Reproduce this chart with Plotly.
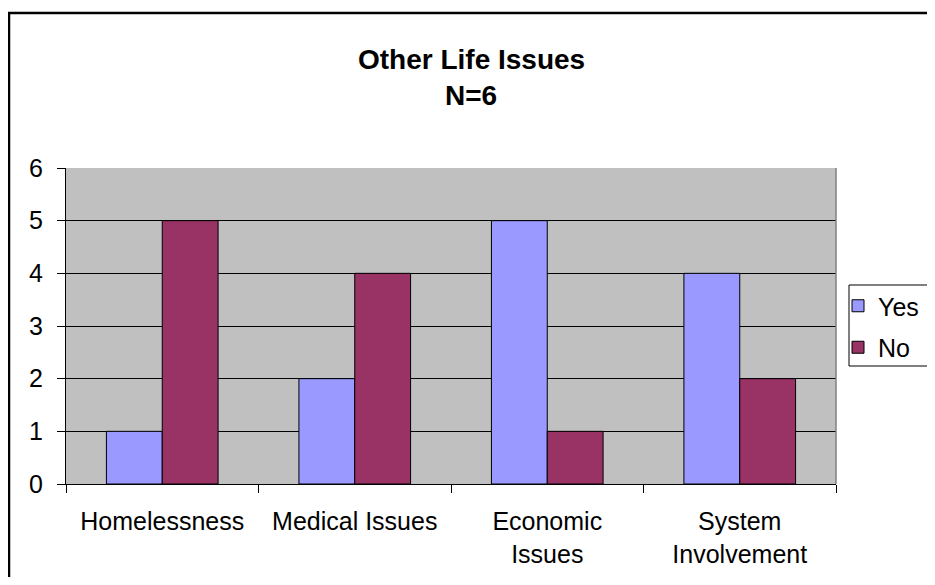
import plotly.graph_objects as go

categories = ["Homelessness", "Medical Issues", "Economic<br>Issues", "System<br>Involvement"]
yes_values = [1, 2, 5, 4]
no_values = [5, 4, 1, 2]
y_ticks = [0, 1, 2, 3, 4, 5, 6]

# figure sits in the page with the default 8px body margin
OFF = 8
W, H = 935 - 2 * OFF, 585 - 2 * OFF
L, T = 66 - OFF, 168 - OFF
R = W - (836 - OFF)
B = H - (484 - OFF)
pw, ph = W - L - R, H - T - B

def px_x(x):  # page x -> paper
    return (x - OFF - L) / pw

def px_y(y):  # page y -> paper
    return (H - B - (y - OFF)) / ph

FONT = "Arial, Liberation Sans, sans-serif"

fig = go.Figure()
fig.add_trace(go.Bar(x=categories, y=yes_values, name="Yes",
                     marker=dict(color="#9999FF", line=dict(color="black", width=1)),
                     legendgroup="a"))
fig.add_trace(go.Bar(x=categories, y=no_values, name="No",
                     marker=dict(color="#993366", line=dict(color="black", width=1)),
                     legendgroup="b"))

fig.update_layout(
    width=W, height=H,
    margin=dict(l=L, r=R, t=T, b=B, pad=0, autoexpand=False),
    paper_bgcolor="white",
    plot_bgcolor="#C0C0C0",
    barmode="group",
    bargap=0.42,
    bargroupgap=0,
    font=dict(family=FONT, size=25, color="black"),
    showlegend=True,
    legend=dict(x=px_x(838), y=px_y(283), xanchor="left", yanchor="top",
                borderwidth=0, bgcolor="rgba(0,0,0,0)",
                font=dict(size=25), tracegroupgap=6, traceorder="grouped"),
    xaxis=dict(type="category", tickson="boundaries", ticks="outside", ticklen=8,
               tickcolor="black", showline=True, linecolor="black", linewidth=1,
               showgrid=False, tickfont=dict(size=25), ticklabelstandoff=15,
               range=[-0.5, 3.5]),
    yaxis=dict(range=[0, 6], tickvals=y_ticks, ticks="outside", ticklen=8,
               tickcolor="black", showline=True, linecolor="black", linewidth=1,
               showgrid=True, gridcolor="black", gridwidth=1,
               tickfont=dict(size=25), ticklabelstandoff=9, zeroline=False),
    annotations=[
        dict(text="<b>Other Life Issues</b>", xref="paper", yref="paper",
             x=px_x(471), y=px_y(60), xanchor="center", yanchor="middle",
             showarrow=False, font=dict(size=28, family=FONT)),
        dict(text="<b>N=6</b>", xref="paper", yref="paper",
             x=px_x(471), y=px_y(96), xanchor="center", yanchor="middle",
             showarrow=False, font=dict(size=28, family=FONT)),
    ],
    shapes=[
        dict(type="rect", xref="paper", yref="paper",
             x0=px_x(9), x1=px_x(960), y0=px_y(610), y1=px_y(13),
             line=dict(color="black", width=2.5), layer="above"),
        dict(type="line", xref="paper", yref="paper",
             x0=1, x1=1, y0=0, y1=1, line=dict(color="#808080", width=1.5), layer="above"),
        dict(type="rect", xref="paper", yref="paper",
             x0=px_x(849), x1=px_x(1000), y0=px_y(366), y1=px_y(285),
             fillcolor="white", line=dict(color="black", width=1), layer="above"),
    ],
)

fig.write_html("out.html")
